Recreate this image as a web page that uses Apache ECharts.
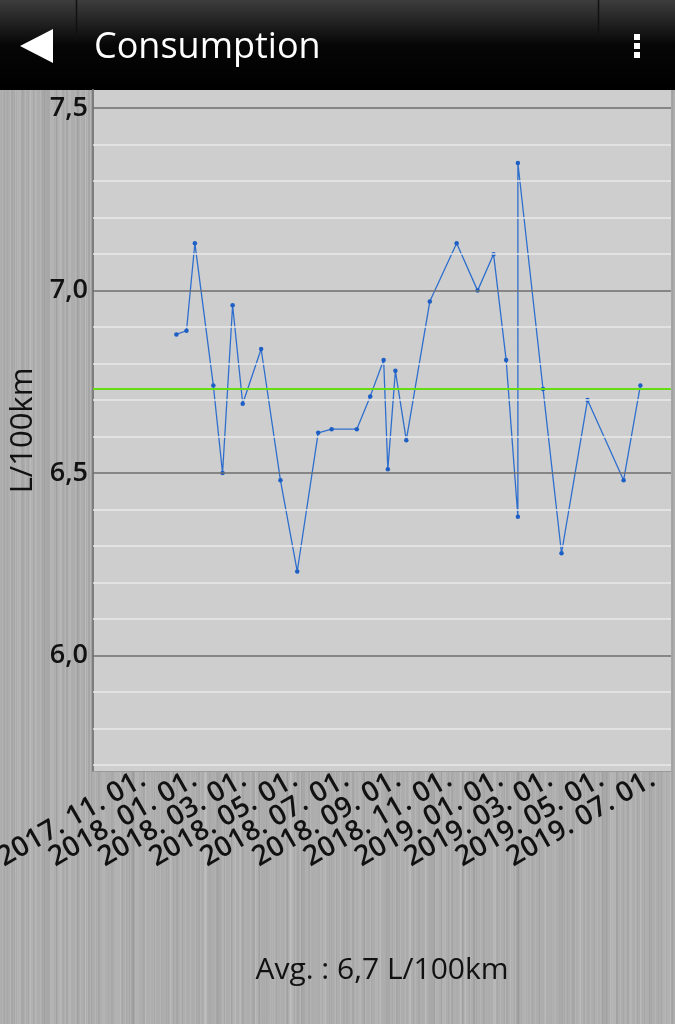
<!DOCTYPE html>
<html>
<head>
<meta charset="utf-8">
<script src="https://cdn.jsdelivr.net/npm/echarts@6/dist/echarts.min.js"></script>
<style>
html,body{margin:0;padding:0;width:675px;height:1024px;overflow:hidden;}
body{
  background-color:#adadad;
  background-image:
    repeating-linear-gradient(90deg, rgba(255,255,255,0.10) 0 1px, transparent 1px 5px),
    repeating-linear-gradient(90deg, rgba(0,0,0,0.04) 0 2px, transparent 2px 11px),
    repeating-linear-gradient(90deg, rgba(255,255,255,0.08) 0 3px, transparent 3px 17px),
    repeating-linear-gradient(90deg, rgba(0,0,0,0.035) 0 1px, transparent 1px 7px),
    repeating-linear-gradient(90deg, rgba(255,255,255,0.06) 0 4px, transparent 4px 29px),
    repeating-linear-gradient(90deg, rgba(0,0,0,0.035) 0 6px, transparent 6px 43px);
}
#chart{width:675px;height:1024px;}
</style>
</head>
<body>
<div id="chart"></div>
<script>
// ---- data ----
const dates = [
  '2017-12-04','2017-12-16','2017-12-26','2018-01-17','2018-01-28','2018-02-09',
  '2018-02-21','2018-03-15','2018-04-07','2018-04-27','2018-05-22','2018-06-07',
  '2018-07-07','2018-07-23','2018-08-08','2018-08-13','2018-08-22','2018-09-04',
  '2018-10-02','2018-11-03','2018-11-28','2018-12-17','2019-01-01','2019-01-15',
  '2019-01-15','2019-02-14','2019-03-08','2019-04-08','2019-05-21','2019-06-10'
];
const values = [
  6.88, 6.89, 7.13, 6.74, 6.50, 6.96,
  6.69, 6.84, 6.48, 6.23, 6.61, 6.62,
  6.62, 6.71, 6.81, 6.51, 6.78, 6.59,
  6.97, 7.13, 7.00, 7.10, 6.81, 6.38,
  7.35, 6.73, 6.28, 6.70, 6.48, 6.74
];
const avgValue = 6.726;
const xTickDates = [
  '2017-11-01','2018-01-01','2018-03-01','2018-05-01','2018-07-01','2018-09-01',
  '2018-11-01','2019-01-01','2019-03-01','2019-05-01','2019-07-01'
];
const xRange = ['2017-08-26T14:00:00Z', '2019-07-16T12:00:00Z'];
const yRange = [5.683, 7.55];
const yTickValues = [6.0, 6.5, 7.0, 7.5];
const yMinorGridValues = [5.7, 5.8, 5.9, 6.1, 6.2, 6.3, 6.4, 6.6, 6.7, 6.8, 6.9, 7.1, 7.2, 7.3, 7.4];
const titleText = 'Consumption';
const yAxisName = 'L/100km';
const avgLabel = 'Avg. : ';
const unit = ' L/100km';

// ---- helpers ----
const ts = d => Date.parse(d.length === 10 ? d + 'T00:00:00Z' : d);
const pad = n => (n < 10 ? '0' : '') + n;
const fmtDate = v => {
  const d = new Date(v);
  return d.getUTCFullYear() + '. ' + pad(d.getUTCMonth() + 1) + '. ' + pad(d.getUTCDate()) + '.';
};
const fmtNum = (v, k) => v.toFixed(k).replace('.', ',');

const seriesData = dates.map((d, i) => [ts(d), values[i]]);
const font = '"Open Sans", "DejaVu Sans", sans-serif';

// two stacked x axes (even / odd ticks) so that no overlapping label gets dropped
const makeXAxis = (tickList, showLine) => ({
  type: 'value', position: 'bottom', offset: 0,
  min: ts(xRange[0]), max: ts(xRange[1]),
  axisLine: {show: showLine, lineStyle: {color: '#9a9a9a', width: 1}},
  axisTick: {show: false},
  splitLine: {show: false},
  axisLabel: {
    customValues: tickList.map(ts),
    formatter: v => fmtDate(v),
    showMinLabel: true, showMaxLabel: true, hideOverlap: false,
    rotate: 30, margin: 3, padding: [0, 6, 0, 0],
    color: '#111', fontSize: 28, fontWeight: 600, fontFamily: font
  }
});

const chart = echarts.init(document.getElementById('chart'), null, {renderer: 'canvas'});
chart.setOption({
  backgroundColor: 'transparent',
  animation: false,
  title: {
    text: titleText,
    left: 89, top: 25,
    textStyle: {color: '#ffffff', fontSize: 36, fontWeight: 'normal', fontFamily: font}
  },
  graphic: [
    {type: 'rect', z: -1, shape: {x: 0, y: 0, width: 675, height: 90},
     style: {fill: new echarts.graphic.LinearGradient(0, 0, 0, 1, [
       {offset: 0, color: '#3d3d3d'}, {offset: 0.5, color: '#060606'}, {offset: 1, color: '#000000'}])}},
    {type: 'line', shape: {x1: 76.5, y1: 0, x2: 76.5, y2: 40}, style: {stroke: '#111', lineWidth: 1.5}},
    {type: 'line', shape: {x1: 598.5, y1: 0, x2: 598.5, y2: 40}, style: {stroke: '#111', lineWidth: 1.5}},
    {type: 'polygon', shape: {points: [[20, 46], [53, 29], [53, 63]]}, style: {fill: '#ffffff'}},
    {type: 'rect', shape: {x: 634, y: 34, width: 6, height: 6}, style: {fill: '#ffffff'}},
    {type: 'rect', shape: {x: 634, y: 43, width: 6, height: 6}, style: {fill: '#ffffff'}},
    {type: 'rect', shape: {x: 634, y: 52, width: 6, height: 6}, style: {fill: '#ffffff'}},
    {type: 'text', x: 382, y: 970,
     style: {text: avgLabel + fmtNum(avgValue, 1) + unit, fill: '#111', fontSize: 30,
             fontFamily: font, align: 'center', verticalAlign: 'middle'}}
  ],
  grid: {
    left: 93, top: 90, right: 4, bottom: 253,
    outerBoundsMode: 'none', containLabel: false,
    show: true, backgroundColor: '#cecece', borderWidth: 0
  },
  xAxis: [
    makeXAxis(xTickDates.filter((d, i) => i % 2 === 0), true),
    makeXAxis(xTickDates.filter((d, i) => i % 2 === 1), false)
  ],
  yAxis: {
    type: 'value',
    min: yRange[0], max: yRange[1],
    name: yAxisName, nameLocation: 'middle', nameRotate: 90, nameGap: 41,
    nameTextStyle: {color: '#111', fontSize: 31, fontFamily: font},
    axisLine: {show: true, lineStyle: {color: '#7d7d7d', width: 2}},
    axisTick: {show: false},
    splitLine: {show: false},
    axisLabel: {
      customValues: yTickValues,
      formatter: v => fmtNum(v, 1),
      margin: 5, color: '#111', fontSize: 27, fontWeight: 600, fontFamily: font
    }
  },
  series: [
    {
      type: 'line', data: [], z: 1, silent: true, xAxisIndex: 0,
      markLine: {
        silent: true, symbol: 'none', label: {show: false}, animation: false,
        data: yMinorGridValues.map(v => ({yAxis: v, lineStyle: {color: '#e9e9e9', width: 1.5, type: 'solid'}}))
          .concat(yTickValues.map(v => ({yAxis: v, lineStyle: {color: '#6e6e6e', width: 1.5, type: 'solid'}})))
          .concat([{yAxis: avgValue, lineStyle: {color: '#66dd11', width: 2, type: 'solid'}}])
      }
    },
    {
      type: 'line', data: seriesData, z: 3, xAxisIndex: 0,
      symbol: 'circle', symbolSize: 4.5, showSymbol: true,
      lineStyle: {color: '#2e6fce', width: 1.3},
      itemStyle: {color: '#1d5fc4'}
    }
  ]
});
</script>
</body>
</html>
